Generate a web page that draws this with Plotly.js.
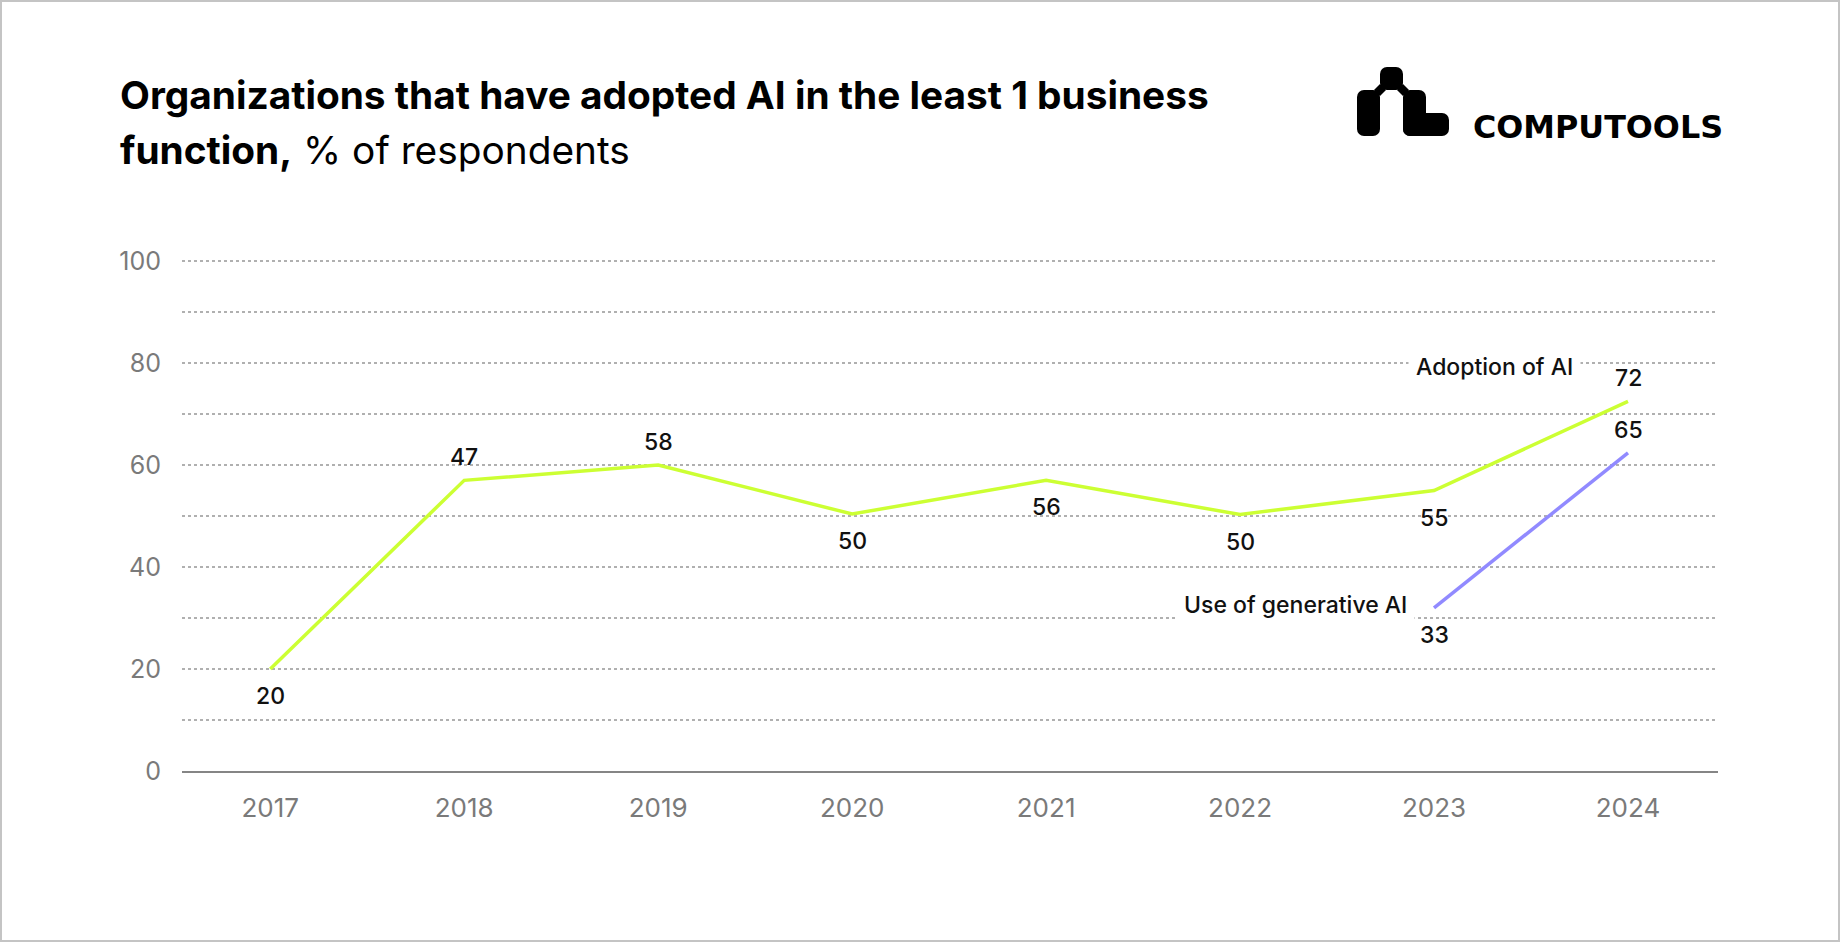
<!DOCTYPE html>
<html>
<head>
<meta charset="utf-8">
<script src="https://cdn.plot.ly/plotly-3.0.1.min.js"></script>
<style>
html,body{margin:0;padding:0;background:#fff;overflow:hidden}
#wrap{position:relative;width:1840px;height:942px}
#chart{width:1840px;height:942px}
#frame{position:absolute;left:0;top:0;width:1840px;height:942px;box-sizing:border-box;border:2px solid #c4c4c4;pointer-events:none}
</style>
</head>
<body>
<div id="wrap"><div id="chart"></div><div id="frame"></div></div>
<script>
// ---- data ----
const years = ['2017','2018','2019','2020','2021','2022','2023','2024'];
const adoptionValues = [20, 57, 60, 50.4, 57, 50.3, 55, 72.5];
const adoptionLabels = ['20','47','58','50','56','50','55','72'];
const genAIYears = ['2023','2024'];
const genAIValues = [32, 62.4];
const genAILabels = ['33','65'];
const yTickValues = [0, 20, 40, 60, 80, 100];
const yTickLabels = ['0','20','40','60','80','100'];
const seriesNames = ['Adoption of AI', 'Use of generative AI'];
const titleLine1 = 'Organizations that have adopted AI in the least 1 business';
const titleLine2Bold = 'function,';
const titleLine2Rest = ' % of respondents';
const brandName = 'COMPUTOOLS';

// ---- geometry helpers ----
const W = 1840, H = 942;
const M = {l: 182, r: 122, t: 255, b: 171};
const PW = W - M.l - M.r, PH = H - M.t - M.b;
const PX = px => (px - M.l) / PW;
const PY = py => (H - M.b - py) / PH;
const catIndex = yr => years.indexOf(yr);

const FONT = 'Inter, "Noto Sans", sans-serif';
const GREEN = '#CCFF33';
const PURPLE = '#918AFF';
const LABEL_FONT = {family: FONT, size: 23, color: '#111', weight: 500};

const traces = [
  {x: years, y: adoptionValues, type: 'scatter', mode: 'lines',
   line: {color: GREEN, width: 3.5}, hoverinfo: 'skip', cliponaxis: false},
  {x: genAIYears, y: genAIValues, type: 'scatter', mode: 'lines',
   line: {color: PURPLE, width: 3.5}, hoverinfo: 'skip', cliponaxis: false}
];

const annotations = [];
const shiftFor = side => side > 0 ? 23 : -27;
// value labels: placement relative to each point (-1 below, 1 above)
const adoptionSide = [-1, 1, 1, -1, -1, -1, -1, 1];
years.forEach((yr, i) => {
  annotations.push({x: catIndex(yr), y: adoptionValues[i], xref: 'x', yref: 'y',
    text: adoptionLabels[i], showarrow: false, xanchor: 'center', yanchor: 'middle',
    yshift: shiftFor(adoptionSide[i]), font: LABEL_FONT});
});
const genSide = [-1, 1];
genAIYears.forEach((yr, i) => {
  annotations.push({x: catIndex(yr), y: genAIValues[i], xref: 'x', yref: 'y',
    text: genAILabels[i], showarrow: false, xanchor: 'center', yanchor: 'middle',
    yshift: shiftFor(genSide[i]), font: LABEL_FONT});
});
// series names
annotations.push({x: catIndex(years[years.length - 1]), y: adoptionValues[adoptionValues.length - 1],
  xref: 'x', yref: 'y', text: seriesNames[0], showarrow: false,
  xanchor: 'right', yanchor: 'middle', xshift: -47, yshift: 34,
  bgcolor: '#fff', borderpad: 7, font: LABEL_FONT});
annotations.push({x: catIndex(genAIYears[0]), y: genAIValues[0],
  xref: 'x', yref: 'y', text: seriesNames[1], showarrow: false,
  xanchor: 'right', yanchor: 'middle', xshift: -19, yshift: 3,
  bgcolor: '#fff', borderpad: 7, font: LABEL_FONT});
// title
annotations.push({xref: 'paper', yref: 'paper', x: PX(118), y: PY(95),
  xanchor: 'left', yanchor: 'middle', showarrow: false,
  text: '<b>' + titleLine1 + '</b>', font: {family: FONT, size: 38.8, color: '#000'}});
annotations.push({xref: 'paper', yref: 'paper', x: PX(118), y: PY(149),
  xanchor: 'left', yanchor: 'middle', showarrow: false,
  text: '<b>' + titleLine2Bold + '</b>' + titleLine2Rest, font: {family: FONT, size: 38.8, color: '#000'}});
// brand
annotations.push({xref: 'paper', yref: 'paper', x: PX(1471), y: PY(126),
  xanchor: 'left', yanchor: 'middle', showarrow: false,
  text: '<b>' + brandName + '</b>', font: {family: '"DejaVu Sans", sans-serif', size: 31.8, color: '#000'}});

const logoSvg = '<svg xmlns="http://www.w3.org/2000/svg" viewBox="0 0 92 70" preserveAspectRatio="none">' +
  '<g fill="#000">' +
  '<rect x="23" y="0" width="23" height="23" rx="7"/>' +
  '<rect x="0" y="23" width="23" height="46" rx="7"/>' +
  '<rect x="46" y="23" width="23" height="46" rx="7"/>' +
  '<rect x="46" y="46" width="46" height="23" rx="7"/>' +
  '<rect x="60" y="46" width="12" height="23"/>' +
  '<rect x="46" y="46" width="23" height="10"/>' +
  '<polygon points="23,17 29,23 23,29 17,23"/>' +
  '<polygon points="46,17 52,23 46,29 40,23"/>' +
  '</g></svg>';

const layout = {
  width: W, height: H,
  margin: M,
  paper_bgcolor: '#fff', plot_bgcolor: '#fff',
  showlegend: false,
  font: {family: FONT},
  xaxis: {type: 'category', range: [-0.455, 7.464], showgrid: false,
    showline: true, linecolor: '#858585', linewidth: 2, ticks: '',
    tickfont: {family: FONT, size: 26, color: '#7a7a7a'}, ticklabelstandoff: 13,
    zeroline: false, fixedrange: true},
  yaxis: {range: [0, 101.2], tickmode: 'array', tickvals: yTickValues, ticktext: yTickLabels,
    showgrid: true, gridcolor: '#b0b0b0', gridwidth: 1.5, griddash: 'dot',
    minor: {dtick: 10, tick0: 0, showgrid: true, gridcolor: '#b0b0b0', gridwidth: 1.5, griddash: 'dot', ticks: ''},
    zeroline: false, showline: false, ticks: '',
    tickfont: {family: FONT, size: 25, color: '#7a7a7a'}, ticklabelstandoff: 20,
    fixedrange: true},
  annotations: annotations,
  images: [{source: 'data:image/svg+xml;charset=utf-8,' + encodeURIComponent(logoSvg),
    xref: 'paper', yref: 'paper', x: PX(1357), y: PY(67),
    sizex: 92 / PW, sizey: 70 / PH, xanchor: 'left', yanchor: 'top',
    sizing: 'stretch', layer: 'above'}]
};

Plotly.newPlot('chart', traces, layout, {displayModeBar: false, staticPlot: true});
</script>
</body>
</html>
